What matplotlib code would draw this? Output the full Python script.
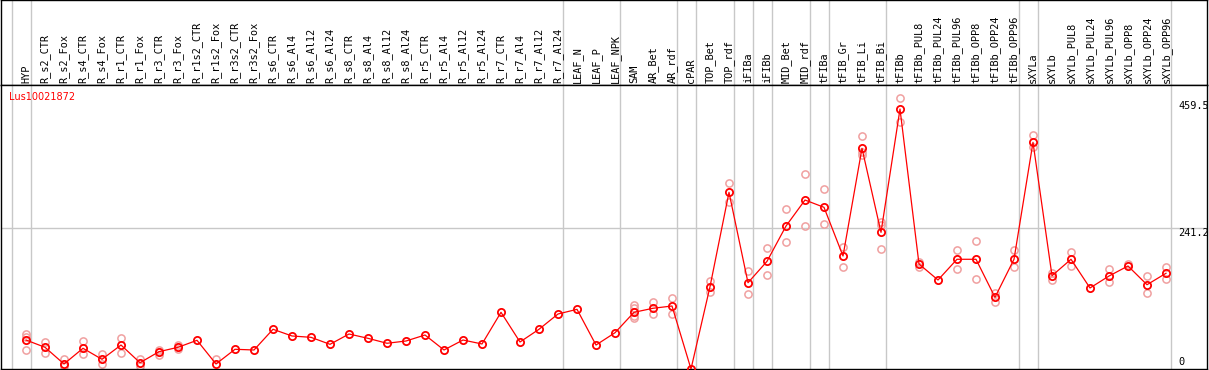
import numpy as np
import matplotlib
matplotlib.use("Agg")
from matplotlib import pyplot as plt

#%% data
samples = ["HYP", "R_s2_CTR", "R_s2_Fox", "R_s4_CTR", "R_s4_Fox", "R_r1_CTR", "R_r1_Fox",
           "R_r3_CTR", "R_r3_Fox", "R_r1s2_CTR", "R_r1s2_Fox", "R_r3s2_CTR", "R_r3s2_Fox",
           "R_s6_CTR", "R_s6_Al4", "R_s6_Al12", "R_s6_Al24", "R_s8_CTR", "R_s8_Al4",
           "R_s8_Al12", "R_s8_Al24", "R_r5_CTR", "R_r5_Al4", "R_r5_Al12", "R_r5_Al24",
           "R_r7_CTR", "R_r7_Al4", "R_r7_Al12", "R_r7_Al24", "LEAF_N", "LEAF_P", "LEAF_NPK",
           "SAM", "AR_Bet", "AR_rdf", "cPAR", "TOP_Bet", "TOP_rdf", "iFIBa", "iFIBb",
           "MID_Bet", "MID_rdf", "tFIBa", "tFIB_Gr", "tFIB_Li", "tFIB_Bi", "tFIBb",
           "tFIBb_PUL8", "tFIBb_PUL24", "tFIBb_PUL96", "tFIBb_OPP8", "tFIBb_OPP24",
           "tFIBb_OPP96", "sXYLa", "sXYLb", "sXYLb_PUL8", "sXYLb_PUL24", "sXYLb_PUL96",
           "sXYLb_OPP8", "sXYLb_OPP24", "sXYLb_OPP96"]

means = [49.7, 37.2, 8.6, 35.5, 16.6, 41.1, 10.8, 29.7, 37.2, 49.2, 8.6, 33.8, 32.6,
         68.1, 56.6, 54.3, 42.3, 60.0, 52.6, 44.1, 48.0, 58.3, 32.6, 49.7, 42.9,
         97.2, 46.3, 68.1, 94.3, 102.3, 41.1, 62.2,
         97.2, 104.1, 108.0, 0.0, 141.1, 302.9, 147.9, 184.6,
         245.1, 289.7, 277.2, 193.7, 378.3, 234.3, 445.7,
         180.0, 152.6, 188.1, 188.1, 122.9, 188.1,
         388.6, 159.9, 188.1, 138.9, 159.4, 176.6, 144.5, 164.1]

# replicate values that are visible (sample index -> values)
replicates = {
    0: [60.0, 54.9, 32.6], 1: [46.8, 27.9], 2: [17.1, 5.1], 3: [48.0, 25.2],
    4: [25.7, 8.6], 5: [52.6, 26.9], 6: [17.7, 5.7], 7: [33.1, 23.5],
    8: [41.1, 33.8], 10: [17.1],
    32: [109.7, 104.6, 90.9, 87.4], 33: [114.3, 94.3], 34: [121.2, 94.3],
    36: [150.9, 131.5], 37: [318.3, 286.8], 38: [168.0, 128.6], 39: [207.4, 161.1],
    40: [273.8, 217.2], 41: [334.3, 245.1], 42: [308.6, 248.1], 43: [208.6, 174.3],
    44: [399.4, 372.5, 366.9], 45: [252.5, 246.9, 205.2], 46: [464.0, 423.9],
    47: [183.9, 174.3], 49: [204.0, 170.9], 50: [219.9, 153.8], 51: [129.8, 115.4],
    52: [204.0, 174.3], 53: [401.1, 381.1], 54: [165.1, 152.6], 55: [200.1, 177.1],
    57: [170.9, 148.6], 58: [180.0], 59: [159.4, 129.8], 60: [175.4, 153.8],
}

# first sample of each group (separator lines drawn before them)
group_starts = [0, 1, 29, 32, 35, 36, 38, 39, 40, 42, 43, 46, 53, 54, 61]

gene = "Lus10021872"
ytick_vals = [459.5, 241.2, 0]

#%% layout
W, H = 1209, 370
fig = plt.figure(figsize=(W / 100, H / 100), dpi=100)
ax_top = fig.add_axes([1 / W, (H - 85) / H, 1206 / W, 85 / H])
ax = fig.add_axes([1 / W, 1 / H, 1206 / W, 284 / H], sharex=ax_top)

x = np.arange(len(samples))
xmin, xmax = (1 - 26) / 19, (1207 - 26) / 19
ax.set_xlim(xmin, xmax)
ax.set_ylim(0, 486.9)
ax_top.set_ylim(0, 1)

for a in (ax, ax_top):
    a.set_xticks([])
    a.set_yticks([])
    for s in a.spines.values():
        s.set_color("black")
        s.set_linewidth(1)
    for g in group_starts:
        a.axvline(g - 0.75, color="#c8c8c8", lw=1, zorder=0)

ax.axhline(ytick_vals[1], color="#c8c8c8", lw=1, zorder=0)

# sample labels
for i, lab in enumerate(samples):
    ax_top.text(i, 0.025, lab, rotation=90, ha="center", va="bottom",
                family="DejaVu Sans Mono", fontsize=7.4, color="black")

# replicates
for i, vals in replicates.items():
    ax.plot([i] * len(vals), vals, "o", ms=5.2, mfc="none", mec="#f0a0a0",
            mew=1.1, zorder=2, clip_on=False)

ax.plot(x, means, "-", color="red", lw=0.9, zorder=3)
ax.plot(x, means, "o", ms=5.2, mfc="none", mec="red", mew=1.3, zorder=4,
        clip_on=False)

ax.text(8 / 19 + xmin, 1 - 12 / 284, gene, transform=ax.get_xaxis_transform(),
        color="red", fontsize=7, family="DejaVu Sans", ha="left", va="center")

# y values on the right
xl = (1178 - 26) / 19
ax.text(xl, ytick_vals[0], "459.5", ha="left", va="top", fontsize=7.4,
        family="DejaVu Sans Mono")
ax.text(xl, ytick_vals[1], "241.2", ha="left", va="top", fontsize=7.4,
        family="DejaVu Sans Mono")
ax.text(xl, 3, "0", ha="left", va="bottom", fontsize=7.4,
        family="DejaVu Sans Mono")

fig.savefig("out.png", dpi=100)
